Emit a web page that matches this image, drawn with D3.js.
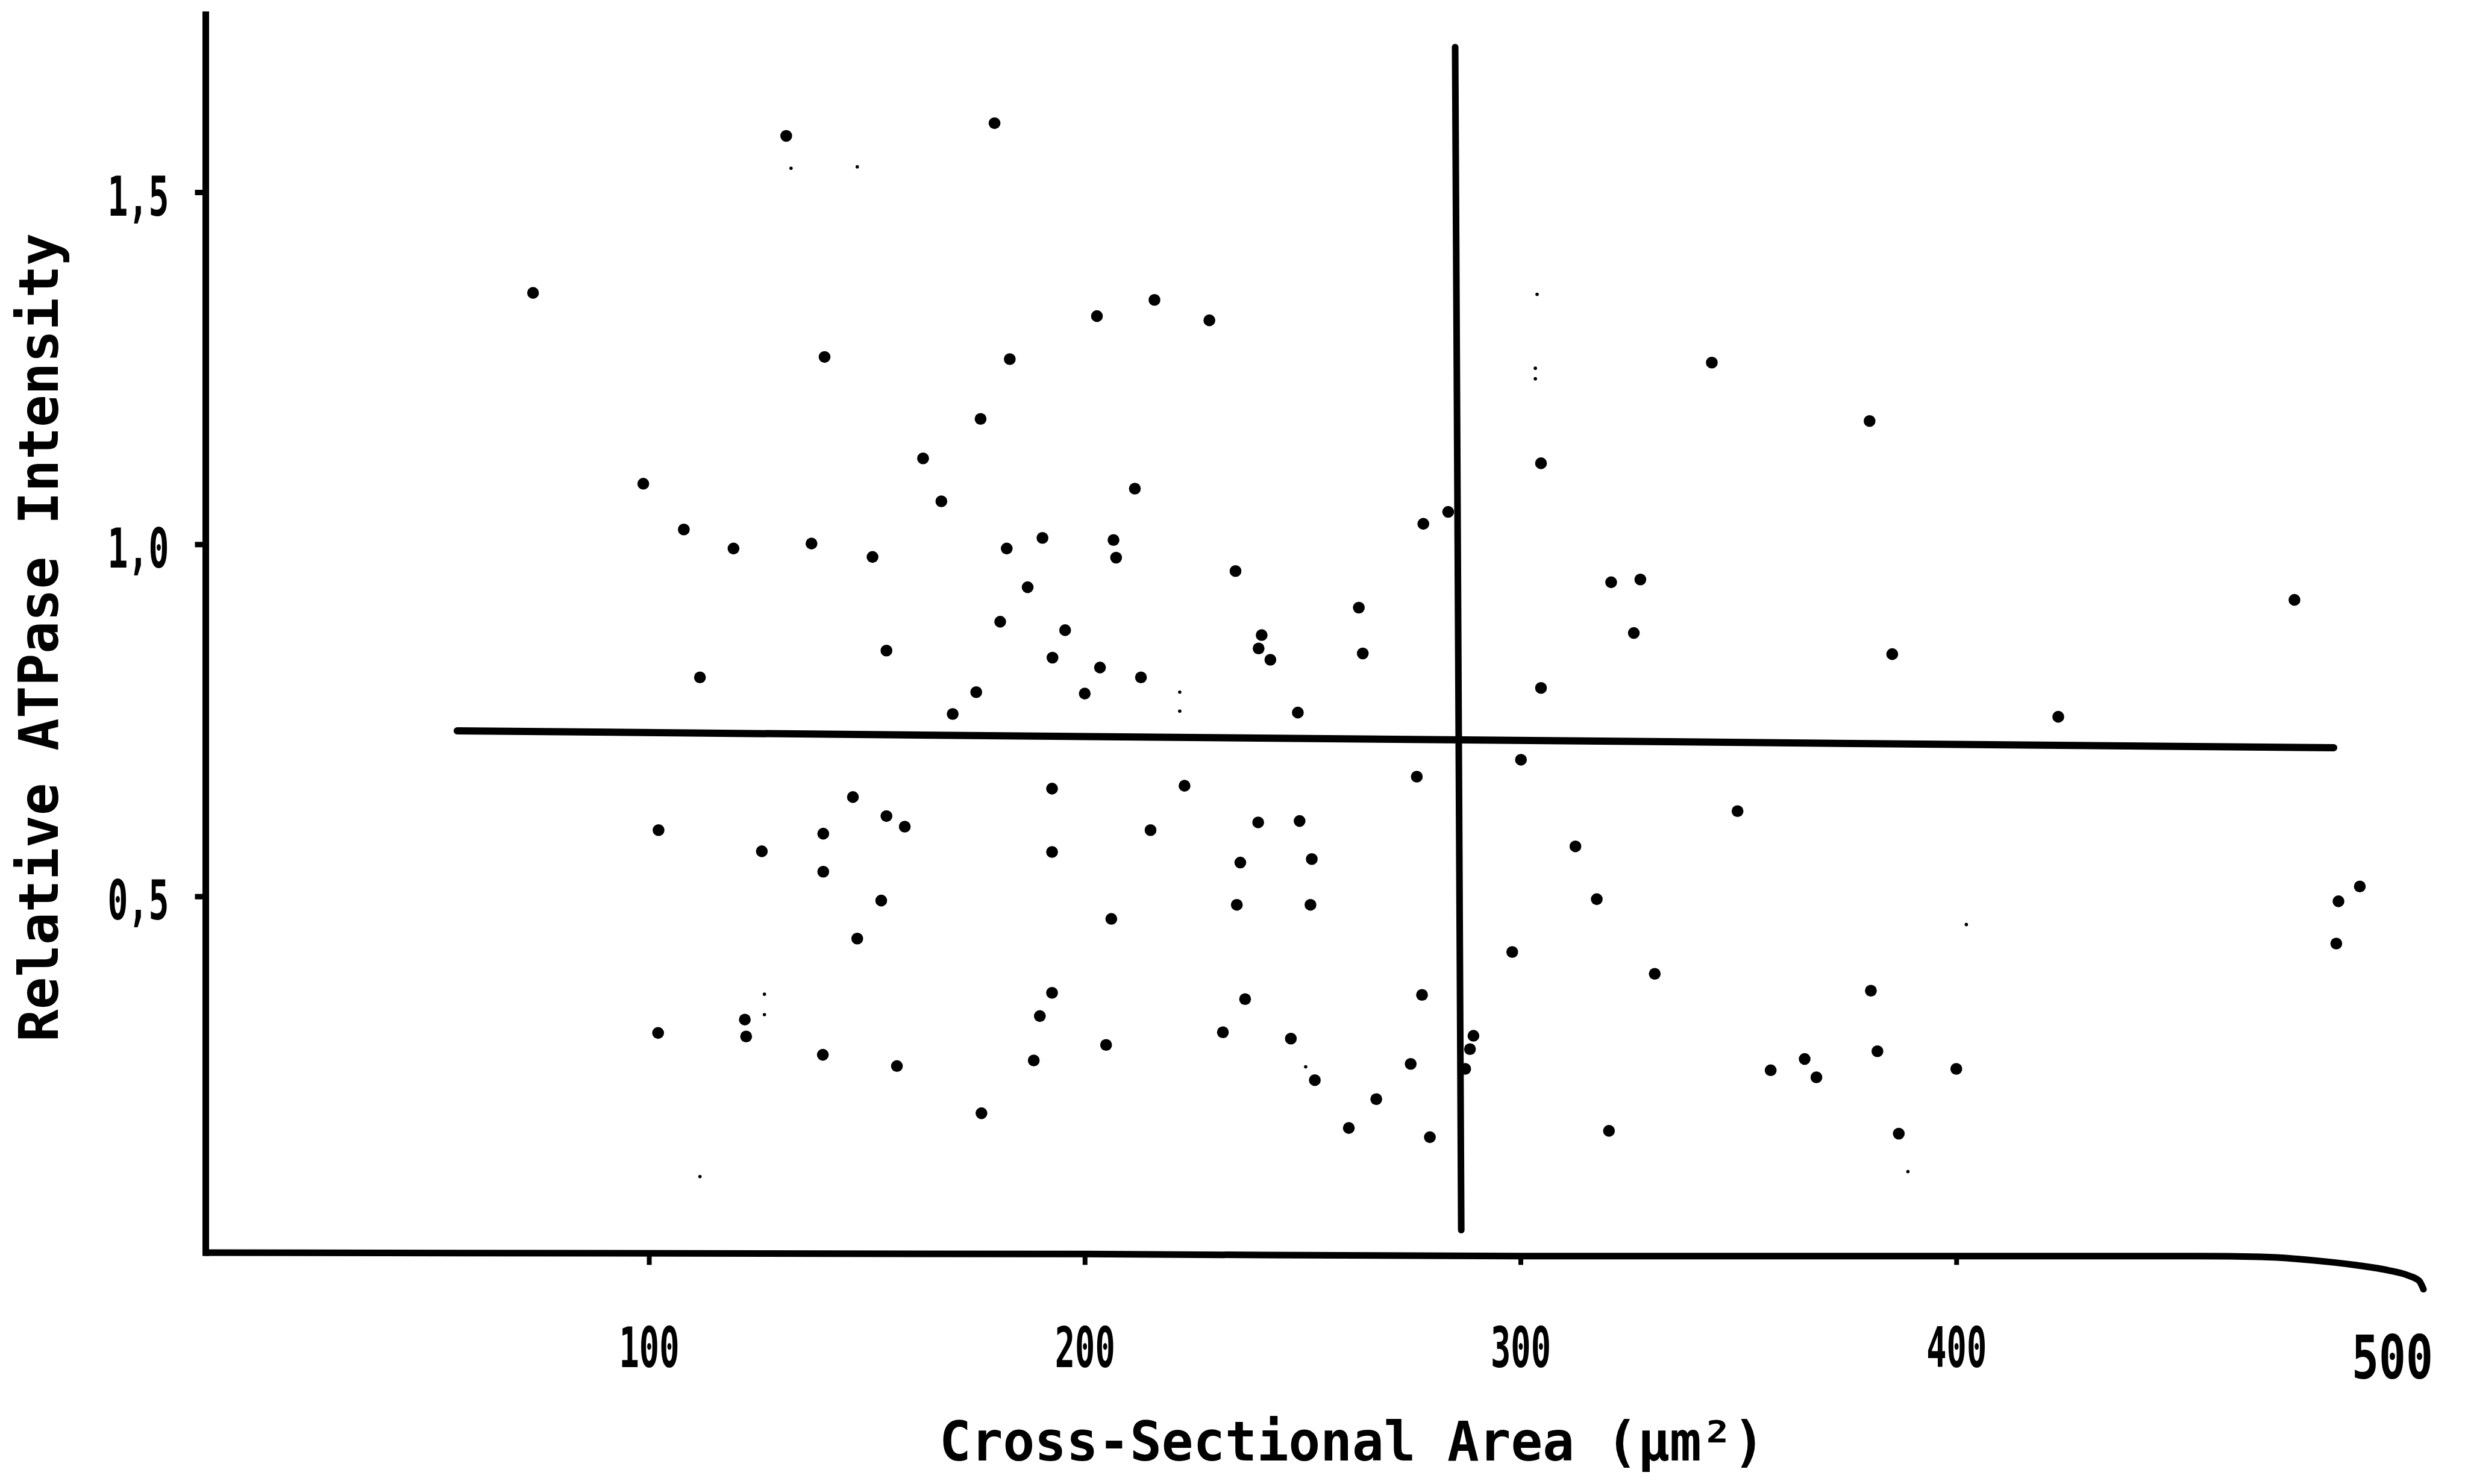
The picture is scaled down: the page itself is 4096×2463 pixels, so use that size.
<!DOCTYPE html>
<html>
<head>
<meta charset="utf-8">
<script src="https://cdn.jsdelivr.net/npm/d3@7"></script>
<style>
body { margin:0; background:#fff; }
text { font-family:"DejaVu Sans Mono", monospace; font-weight:bold; fill:#000; }
</style>
</head>
<body>
<svg id="chart"></svg>
<script>

// fibre cross-sectional area (um^2)
var areas = [
    131.5, 73.4, 140.3, 162.9, 98.7, 167.1, 108.0, 119.4, 137.3, 151.3, 154.5, 111.7,
    179.3, 216.0, 202.8, 228.6, 182.8, 176.1, 211.5, 190.3, 182.1, 206.6, 207.2, 234.6,
    186.9, 277.7, 283.4, 304.7, 180.6, 195.5, 192.6, 203.5, 212.9, 175.1, 200.0, 240.6,
    239.9, 242.6, 262.9, 263.8, 304.7, 320.8, 327.5, 326.0,
    343.9, 380.1, 385.3, 477.6,
    146.8, 154.5, 158.7, 102.2, 140.0, 125.9, 140.0, 153.3, 147.8, 122.0, 102.1, 122.3,
    139.9, 156.9,
    169.7, 248.9, 300.1, 276.2, 192.5, 222.9, 215.1, 239.8, 249.3, 192.5, 235.7, 252.1,
    234.9, 251.8, 206.1, 312.6, 317.5, 298.1, 330.8, 192.5, 189.7, 236.8, 277.4, 231.7,
    247.3, 204.9, 188.3, 274.8, 289.2, 288.4, 287.3, 252.8, 266.9, 176.3, 260.6, 279.2,
    320.3,
    423.4, 349.8, 492.6, 487.7, 487.2, 380.4, 381.9, 365.2, 357.4, 367.9, 400.0, 386.8
]

// relative ATPase intensity, same order
var intensities = [
    1.580, 1.357, 1.266, 1.122, 1.086, 1.061, 1.021, 0.994, 1.001, 0.982, 0.849, 0.811,
    1.598, 1.347, 1.324, 1.318, 1.263, 1.178, 1.079, 1.009, 0.994, 1.006, 0.981, 0.962,
    0.939, 1.029, 1.046, 1.115, 0.890, 0.878, 0.839, 0.825, 0.811, 0.790, 0.788, 0.871,
    0.852, 0.836, 0.910, 0.845, 0.796, 0.946, 0.950, 0.874,
    1.258, 1.175, 0.844, 0.921,
    0.641, 0.614, 0.599, 0.594, 0.589, 0.564, 0.535, 0.494, 0.440, 0.325, 0.306, 0.301,
    0.275, 0.259,
    0.759, 0.761, 0.694, 0.670, 0.653, 0.657, 0.594, 0.605, 0.607, 0.563, 0.548, 0.553,
    0.488, 0.488, 0.468, 0.571, 0.496, 0.421, 0.390, 0.363, 0.330, 0.354, 0.360, 0.307,
    0.298, 0.289, 0.267, 0.262, 0.302, 0.283, 0.255, 0.239, 0.212, 0.192, 0.171, 0.158,
    0.167,
    0.755, 0.621, 0.514, 0.493, 0.433, 0.366, 0.280, 0.269, 0.253, 0.243, 0.255, 0.163
]

// small specks in the scan
var speckAreas       = [132.6, 147.8, 221.8, 221.8, 303.8, 303.4, 303.4, 126.5, 126.5, 111.7, 388.9, 402.3, 250.7]
var speckIntensities = [1.534, 1.536, 0.790, 0.763, 1.355, 1.250, 1.235, 0.361, 0.332, 0.102, 0.109, 0.460, 0.258]

// the two mean lines
var vLineArea = [285, 286.4]
var vLineIntensity = [1.706, 0.026]
var hLineArea = [56, 486.6]
var hLineIntensity = [0.735, 0.711]

// hand drawn frame: left side, then the bottom with its hook at the right end
var leftArea = [-1.7, -1.7]
var leftIntensity = [1.752, -0.006]
var bottomArea = [-1.7, 200, 300, 455, 470, 482, 492, 499, 503.5, 506.2, 507.2]
var bottomIntensity = [-0.006, -0.008, -0.011, -0.011, -0.012, -0.017, -0.024, -0.031, -0.038, -0.046, -0.058]

var xTicks = [100, 200, 300, 400, 500]
var yTicks = [0.5, 1.0, 1.5]
var yTickLabels = ["0,5", "1,0", "1,5"]
var xTitle = "Cross-Sectional Area (\u03bcm\u00b2)"
var yTitle = "Relative ATPase Intensity"

var screen = {width:4096, height:2463}

var svg = d3.select("#chart")
    .attr("width", screen.width)
    .attr("height", screen.height)

svg.append("rect")
    .attr("width", screen.width)
    .attr("height", screen.height)
    .attr("fill", "#fff")

var xScale = d3.scaleLinear()
    .domain([0, 500])
    .range([353.8, 3970])

var yScale = d3.scaleLinear()
    .domain([0, 1.75])
    .range([2072, 26.8])

var lineGenerator = d3.line()
    .x(function(d) { return xScale(d[0]) })
    .y(function(d) { return yScale(d[1]) })

var zipUp = function(a, b)
{
    return a.map(function(v, i) { return [v, b[i]] })
}

// axes
var axisX = xScale(-1.7)
var axisY = yScale(-0.008)

var yAxis = d3.axisLeft(yScale)
    .tickValues(yTicks)
    .tickSize(18)
    .tickPadding(43)
    .tickFormat(function(d, i) { return yTickLabels[i] })

var yg = svg.append("g")
    .attr("transform", "translate(" + axisX + ",0)")
    .call(yAxis)
yg.select(".domain").remove()
yg.selectAll("line").attr("stroke", "#000").attr("stroke-width", 9)
yg.selectAll("text")
    .attr("font-size", 91)
    .attr("font-family", null)
    .attr("dy", "0.42em")
    .attr("textLength", 102)
    .attr("lengthAdjust", "spacingAndGlyphs")

var xAxis = d3.axisBottom(xScale)
    .tickValues(xTicks)
    .tickSize(18)
    .tickPadding(104)

var xg = svg.append("g")
    .attr("transform", "translate(0," + axisY + ")")
    .call(xAxis)
xg.select(".domain").remove()
xg.selectAll("line").attr("stroke", "#000").attr("stroke-width", 8)
xg.selectAll(".tick").filter(function(d) { return d == 500 }).select("line").remove()
xg.selectAll("text")
    .attr("font-size", 93)
    .attr("font-family", null)
    .attr("textLength", 100)
    .attr("lengthAdjust", "spacingAndGlyphs")
xg.selectAll(".tick").filter(function(d) { return d == 500 }).select("text")
    .attr("font-size", 100)
    .attr("textLength", 135)
    .attr("dy", "0.85em")

svg.append("path")
    .datum(zipUp(leftArea, leftIntensity))
    .attr("d", lineGenerator)
    .attr("fill", "none")
    .attr("stroke", "#000")
    .attr("stroke-width", 11)
    .attr("stroke-linecap", "square")

svg.append("path")
    .datum(zipUp(bottomArea, bottomIntensity))
    .attr("d", lineGenerator.curve(d3.curveMonotoneX))
    .attr("fill", "none")
    .attr("stroke", "#000")
    .attr("stroke-width", 11)
    .attr("stroke-linecap", "round")

lineGenerator.curve(d3.curveLinear)

// mean lines
svg.append("path")
    .datum(zipUp(hLineArea, hLineIntensity))
    .attr("d", lineGenerator)
    .attr("fill", "none")
    .attr("stroke", "#000")
    .attr("stroke-width", 12)
    .attr("stroke-linecap", "round")

svg.append("path")
    .datum(zipUp(vLineArea, vLineIntensity))
    .attr("d", lineGenerator)
    .attr("fill", "none")
    .attr("stroke", "#000")
    .attr("stroke-width", 11)
    .attr("stroke-linecap", "round")

// points
svg.append("g")
    .selectAll("circle")
    .data(zipUp(areas, intensities))
    .enter()
    .append("circle")
    .attr("cx", function(d) { return xScale(d[0]) })
    .attr("cy", function(d) { return yScale(d[1]) })
    .attr("r", 9.8)
    .attr("fill", "#000")

svg.append("g")
    .selectAll("circle")
    .data(zipUp(speckAreas, speckIntensities))
    .enter()
    .append("circle")
    .attr("cx", function(d) { return xScale(d[0]) })
    .attr("cy", function(d) { return yScale(d[1]) })
    .attr("r", 2.8)
    .attr("fill", "#000")

// titles
svg.append("text")
    .text(xTitle)
    .attr("x", 2244)
    .attr("y", 2424)
    .attr("text-anchor", "middle")
    .attr("font-size", 90)
    .attr("textLength", 1370)
    .attr("lengthAdjust", "spacingAndGlyphs")

svg.append("g")
    .attr("transform", "translate(96,1058)")
    .append("text")
    .text(yTitle)
    .attr("text-anchor", "middle")
    .attr("transform", "rotate(-90)")
    .attr("font-size", 90)
    .attr("textLength", 1342)
    .attr("lengthAdjust", "spacingAndGlyphs")

</script>
</body>
</html>
